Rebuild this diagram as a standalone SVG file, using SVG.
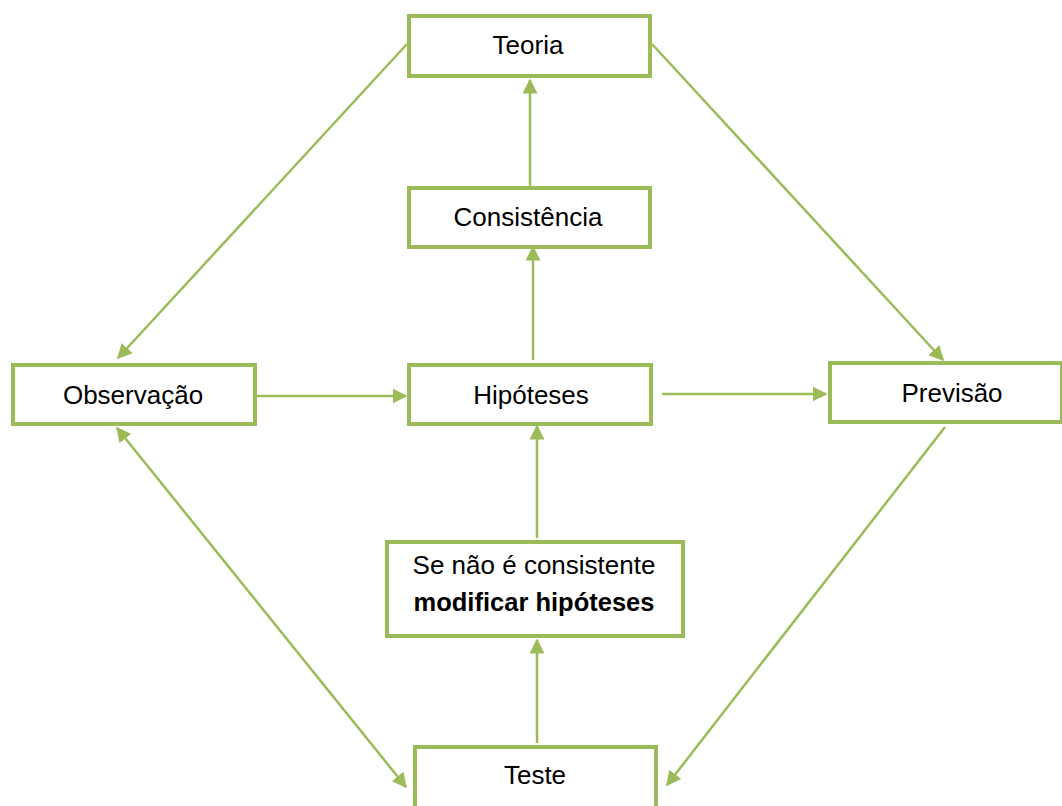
<svg xmlns="http://www.w3.org/2000/svg" width="1062" height="806" viewBox="0 0 1062 806">
  <style>
    .box { fill: #ffffff; stroke: #9bbb59; stroke-width: 4; }
    .lbl { font-family: "Liberation Sans", Arial, sans-serif; font-size: 26px; fill: #000000; text-anchor: middle; }
    .bold { font-weight: bold; font-size: 25.5px; }
    .edge { stroke: #9bbb59; stroke-width: 2.5; fill: none; }
  </style>
  <defs>
    <marker id="head" viewBox="0 0 10 10" refX="9" refY="5" markerWidth="6" markerHeight="6" markerUnits="strokeWidth" orient="auto-start-reverse">
      <path d="M0,0 L10,5 L0,10 Z" fill="#9bbb59"/>
    </marker>
  </defs>
  <rect width="1062" height="806" fill="#ffffff"/>

  <g id="connectors">
    <line class="edge" x1="407" y1="44" x2="118" y2="358" marker-end="url(#head)"/>
    <line class="edge" x1="652" y1="44" x2="943" y2="360" marker-end="url(#head)"/>
    <line class="edge" x1="530" y1="186" x2="530" y2="80" marker-end="url(#head)"/>
    <line class="edge" x1="533" y1="360" x2="533" y2="247" marker-end="url(#head)"/>
    <line class="edge" x1="257" y1="396" x2="406" y2="396" marker-end="url(#head)"/>
    <line class="edge" x1="662" y1="394" x2="826" y2="394" marker-end="url(#head)"/>
    <line class="edge" x1="537" y1="538" x2="537" y2="426" marker-end="url(#head)"/>
    <line class="edge" x1="537" y1="743" x2="537" y2="640" marker-end="url(#head)"/>
    <line class="edge" x1="945" y1="427" x2="667" y2="785" marker-end="url(#head)"/>
    <line class="edge" x1="117" y1="428" x2="406" y2="787" marker-start="url(#head)" marker-end="url(#head)"/>
  </g>

  <g id="teoria">
    <rect class="box" x="409" y="16" width="241" height="60"/>
    <text class="lbl" x="528" y="54">Teoria</text>
  </g>
  <g id="consistencia">
    <rect class="box" x="409" y="188" width="241" height="59"/>
    <text class="lbl" x="528" y="226">Consistência</text>
  </g>
  <g id="observacao">
    <rect class="box" x="13" y="365" width="242" height="59"/>
    <text class="lbl" x="133" y="404">Observação</text>
  </g>
  <g id="hipoteses">
    <rect class="box" x="409" y="365" width="242" height="59"/>
    <text class="lbl" x="531" y="404">Hipóteses</text>
  </g>
  <g id="previsao">
    <rect class="box" x="830" y="363" width="232" height="59"/>
    <text class="lbl" x="952" y="402">Previsão</text>
  </g>
  <g id="modificar">
    <rect class="box" x="387" y="542" width="296" height="94"/>
    <text class="lbl" x="534" y="574">Se não é consistente</text>
    <text class="lbl bold" x="534" y="611">modificar hipóteses</text>
  </g>
  <g id="teste">
    <rect class="box" x="415" y="747" width="241" height="64"/>
    <text class="lbl" x="535" y="784">Teste</text>
  </g>
</svg>
